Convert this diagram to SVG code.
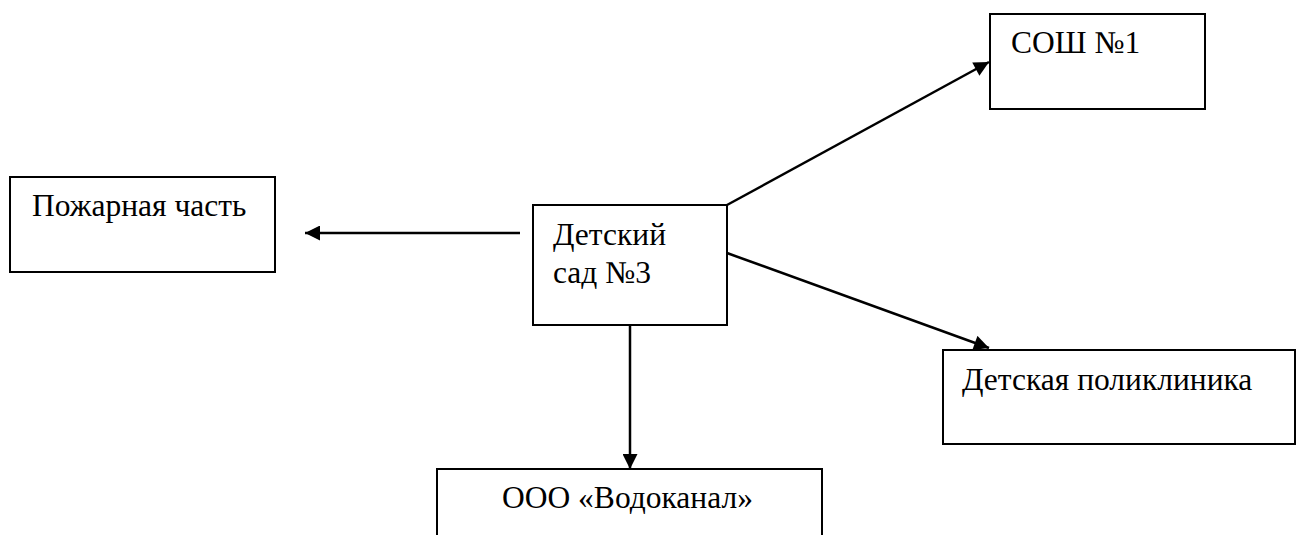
<svg xmlns="http://www.w3.org/2000/svg" width="1297" height="535" viewBox="0 0 1297 535">
<defs>
<style>
.box{fill:#fff;stroke:#000;stroke-width:2}
.con{stroke:#000;stroke-width:2.5;fill:none;marker-end:url(#ah)}
</style>
<marker id="ah" viewBox="0 0 10 10" refX="10" refY="5" markerWidth="6.5" markerHeight="6" markerUnits="strokeWidth" orient="auto">
<path d="M0,0 L10,5 L0,10 z" fill="#000"/>
</marker>
</defs>
<rect width="1297" height="535" fill="#fff"/>
<g font-family="'Liberation Serif', 'Times New Roman', serif" font-size="31.5" fill="#000">
<g id="sosh">
<rect class="box" x="990" y="14" width="215" height="95"/>
<text x="1011" y="53">СОШ №1</text>
</g>
<g id="pozharnaya">
<rect class="box" x="10" y="177" width="265" height="95"/>
<text x="32" y="216">Пожарная часть</text>
</g>
<g id="detsad">
<rect class="box" x="533" y="205" width="194" height="120"/>
<text x="553" y="245">Детский</text>
<text x="553" y="283">сад №3</text>
</g>
<g id="poliklinika">
<rect class="box" x="943" y="350" width="352" height="94"/>
<text x="962" y="390">Детская поликлиника</text>
</g>
<g id="vodokanal">
<rect class="box" x="437" y="469" width="385" height="80"/>
<text x="502" y="508">ООО «Водоканал»</text>
</g>
</g>
<g id="connectors">
<line class="con" x1="520" y1="233" x2="305" y2="233"/>
<line class="con" x1="727" y1="205" x2="989" y2="62"/>
<line class="con" x1="727" y1="253" x2="989" y2="348"/>
<line class="con" x1="630" y1="325" x2="630" y2="469"/>
</g>
</svg>
